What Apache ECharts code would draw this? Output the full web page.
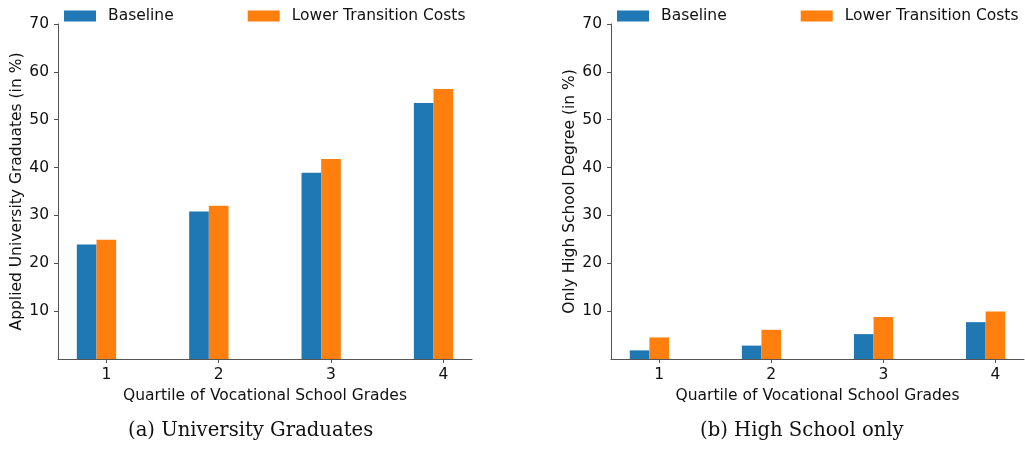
<!DOCTYPE html>
<html>
<head>
<meta charset="utf-8">
<script src="https://cdn.jsdelivr.net/npm/echarts@6/dist/echarts.min.js"></script>
<style>
  html, body { margin: 0; padding: 0; background: #fff; }
  #chart { width: 1025px; height: 451px; }
</style>
</head>
<body>
<div id="chart"></div>
<script>
// quartiles on the x axis
const quartiles = [1, 2, 3, 4];
const yTicks = [10, 20, 30, 40, 50, 60, 70];

// (a) applied university graduates, in %
const uniBaseline = [23.9, 30.8, 38.9, 53.5];
const uniLower = [24.9, 32.0, 41.8, 56.4];

// (b) only high school degree, in %
const hsBaseline = [1.8, 2.8, 5.2, 7.7];
const hsLower = [4.5, 6.1, 8.8, 9.9];

const BLUE = "#1f77b4";
const ORANGE = "#ff7f0e";
const AXIS = "#555";
const FONT = "DejaVu Sans";

const chart = echarts.init(document.getElementById("chart"));

const pair = (xs, ys) => xs.map((x, i) => [x, ys[i]]);

const xAxisFor = (gridIndex) => ({
  type: "value",
  gridIndex: gridIndex,
  min: 0.57,
  max: 4.255,
  name: "Quartile of Vocational School Grades",
  nameLocation: "middle",
  nameGap: 27,
  nameTextStyle: { fontFamily: FONT, fontSize: 15.5, color: "#111" },
  splitLine: { show: false },
  axisLine: { lineStyle: { color: AXIS, width: 1 } },
  axisTick: { show: true, length: 4, customValues: quartiles, lineStyle: { color: AXIS } },
  axisLabel: { customValues: quartiles, margin: 8, fontFamily: FONT, fontSize: 15.5, color: "#111" },
});

const yAxisFor = (gridIndex, name, gap) => ({
  type: "value",
  gridIndex: gridIndex,
  min: 0,
  max: 70,
  name: name,
  nameLocation: "middle",
  nameGap: gap,
  nameTextStyle: { fontFamily: FONT, fontSize: 15.5, color: "#111" },
  splitLine: { show: false },
  axisLine: { show: true, lineStyle: { color: AXIS, width: 1 } },
  axisTick: { show: true, length: 4, customValues: yTicks, lineStyle: { color: AXIS } },
  axisLabel: { customValues: yTicks, margin: 9, fontFamily: FONT, fontSize: 15.5, color: "#111" },
});

const barSeries = (name, data, color, axisIndex) => ({
  name: name,
  type: "bar",
  xAxisIndex: axisIndex,
  yAxisIndex: axisIndex,
  data: data,
  barWidth: "17.5%",
  barGap: "0%",
  itemStyle: { color: color },
  emphasis: { disabled: true },
});

// empty slot so that the orange bar sits on the tick, blue to its left
const spacer = (axisIndex) => ({
  name: "spacer",
  type: "bar",
  xAxisIndex: axisIndex,
  yAxisIndex: axisIndex,
  data: [],
  barWidth: "17.5%",
  barGap: "0%",
});

const legendFor = (left) => ({
  left: left,
  top: 8,
  width: 460,
  padding: 0,
  orient: "horizontal",
  itemWidth: 32,
  itemHeight: 11,
  itemGap: 74,
  icon: "rect",
  data: ["Baseline", "Lower Transition Costs"],
  textStyle: { fontFamily: FONT, fontSize: 15.5, color: "#111", padding: [0, 0, 0, 7] },
});

const options = {
  animation: false,
  grid: [
    { left: 58, top: 24, width: 414, bottom: 92 },
    { left: 611, top: 24, width: 413, bottom: 92 },
  ],
  legend: [legendFor(64), legendFor(617)],
  xAxis: [xAxisFor(0), xAxisFor(1)],
  yAxis: [
    yAxisFor(0, "Applied University Graduates (in %)", 32),
    yAxisFor(1, "Only High School Degree (in %)", 33),
  ],
  series: [
    barSeries("Baseline", pair(quartiles, uniBaseline), BLUE, 0),
    barSeries("Lower Transition Costs", pair(quartiles, uniLower), ORANGE, 0),
    spacer(0),
    barSeries("Baseline", pair(quartiles, hsBaseline), BLUE, 1),
    barSeries("Lower Transition Costs", pair(quartiles, hsLower), ORANGE, 1),
    spacer(1),
  ],
  graphic: [
    {
      type: "text",
      left: 128,
      top: 421,
      style: { text: "(a) University Graduates", fontFamily: "DejaVu Serif", fontSize: 19.6, fill: "#111" },
    },
    {
      type: "text",
      left: 700,
      top: 421,
      style: { text: "(b) High School only", fontFamily: "DejaVu Serif", fontSize: 19.6, fill: "#111" },
    },
  ],
};

chart.setOption(options);
</script>
</body>
</html>
